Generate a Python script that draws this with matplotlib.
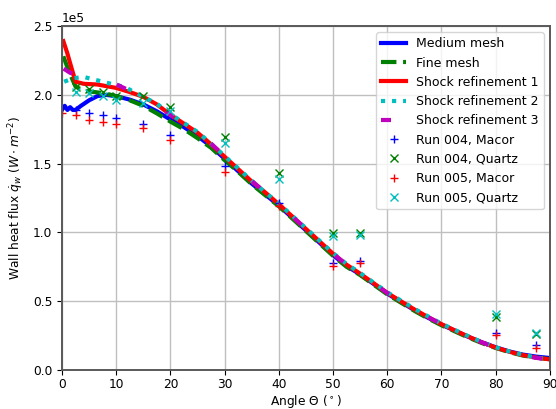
import matplotlib
matplotlib.use("Agg")
import matplotlib.pyplot as plt
import numpy as np

# simulated wall heat flux along the surface (angle in deg, flux in 1e5 W/m^2)
tail_angle = [12.5, 15, 17.5, 20, 22.5, 25, 27.5, 30, 32.5, 35, 37.5, 40, 42.5, 45,
              47.5, 50, 52.5, 55, 57.5, 60, 62.5, 65, 67.5, 70, 72.5, 75, 77.5,
              80, 82.5, 85, 87.5, 90]

medium_angle = [0, 0.5, 1.0, 1.5, 2.0, 2.5, 3.5, 5, 6.5, 8, 10] + tail_angle
medium_q = [1.89, 1.92, 1.89, 1.91, 1.89, 1.89, 1.92, 1.96, 1.99, 2.00, 1.99,
            1.965, 1.93, 1.88, 1.82, 1.765, 1.70, 1.625, 1.535, 1.445, 1.355, 1.275,
            1.195, 1.105, 1.015, 0.925, 0.835, 0.755, 0.695, 0.625, 0.555, 0.495,
            0.435, 0.38, 0.33, 0.285, 0.24, 0.20, 0.165, 0.135, 0.112, 0.097, 0.087]

fine_angle = [0.25, 1.0, 1.5, 2.5, 4, 6, 8, 10] + tail_angle
fine_q = [2.28, 2.20, 2.15, 2.06, 2.03, 2.02, 2.01, 1.99,
          1.96, 1.92, 1.865, 1.805, 1.75, 1.685, 1.615, 1.525, 1.44, 1.35, 1.27,
          1.19, 1.10, 1.01, 0.92, 0.83, 0.75, 0.69, 0.62, 0.55, 0.49,
          0.43, 0.375, 0.325, 0.28, 0.235, 0.195, 0.16, 0.13, 0.105, 0.09, 0.078]

shock1_angle = [0.25, 1.0, 1.5, 2.5, 4, 6.5, 10] + tail_angle
shock1_q = [2.39, 2.30, 2.23, 2.095, 2.08, 2.075, 2.05,
            2.02, 1.985, 1.93, 1.855, 1.79, 1.725, 1.64, 1.55, 1.46, 1.37, 1.29,
            1.205, 1.115, 1.025, 0.935, 0.845, 0.765, 0.70, 0.63, 0.56, 0.50,
            0.44, 0.385, 0.333, 0.287, 0.242, 0.20, 0.163, 0.133, 0.108, 0.09, 0.077]

shock2_angle = [0.4, 2, 4, 6, 7.6, 10, 11.4] + tail_angle[1:]
shock2_q = [2.095, 2.12, 2.13, 2.11, 2.095, 2.07, 2.06,
            1.985, 1.935, 1.86, 1.795, 1.73, 1.645, 1.555, 1.465, 1.375, 1.29,
            1.21, 1.12, 1.03, 0.94, 0.85, 0.77, 0.705, 0.635, 0.565, 0.505,
            0.445, 0.39, 0.337, 0.29, 0.245, 0.202, 0.165, 0.135, 0.11, 0.09, 0.077]

shock3_angle = [0.3, 1.5, 3, 5.8, 9.8] + tail_angle
shock3_q = [2.19, 2.16, 2.14, 2.12, 2.08,
            2.03, 1.98, 1.925, 1.855, 1.79, 1.725, 1.645, 1.555, 1.465, 1.375,
            1.29, 1.205, 1.115, 1.025, 0.935, 0.845, 0.765, 0.70, 0.63, 0.56,
            0.50, 0.44, 0.385, 0.333, 0.287, 0.242, 0.20, 0.163, 0.132, 0.106, 0.088, 0.075]

# experiments (angle in deg, flux in 1e5 W/m^2)
run004_macor_angle = [2.5, 5, 7.5, 10, 15, 20, 30, 40, 50, 55, 80, 87.5]
run004_macor_q = [1.89, 1.87, 1.85, 1.83, 1.79, 1.71, 1.48, 1.215, 0.78, 0.794, 0.271, 0.182]

run004_quartz_angle = [2.5, 5, 7.5, 10, 15, 20, 30, 40, 50, 55, 80, 87.5]
run004_quartz_q = [2.06, 2.04, 2.02, 1.99, 1.99, 1.91, 1.695, 1.434, 0.993, 0.998, 0.383, 0.265]

run005_macor_angle = [0, 2.5, 5, 7.5, 10, 15, 20, 30, 40, 50, 55, 80, 87.5]
run005_macor_q = [1.87, 1.85, 1.82, 1.80, 1.79, 1.76, 1.67, 1.44, 1.19, 0.756, 0.775, 0.254, 0.158]

run005_quartz_angle = [2.5, 5, 7.5, 10, 15, 20, 30, 40, 50, 55, 80, 87.5]
run005_quartz_q = [2.02, 2.01, 1.99, 1.96, 1.94, 1.88, 1.65, 1.386, 0.974, 0.98, 0.407, 0.271]


def main() -> None:
    plt.rcParams["font.size"] = 8.8
    plt.rcParams["axes.edgecolor"] = "0.35"
    plt.rcParams["axes.linewidth"] = 1.4

    fig = plt.figure(figsize=(5.56, 4.09), dpi=100)
    ax = fig.add_axes([0.1115, 0.0954, 0.8775, 0.841])

    s = 1e5
    ax.plot(medium_angle, np.array(medium_q) * s, "b-", lw=3, label="Medium mesh")
    ax.plot(fine_angle, np.array(fine_q) * s, "g--", lw=3, label="Fine mesh")
    ax.plot(shock1_angle, np.array(shock1_q) * s, "r-", lw=3, label="Shock refinement 1")
    ax.plot(shock2_angle, np.array(shock2_q) * s, "c:", lw=3, label="Shock refinement 2")
    ax.plot(shock3_angle, np.array(shock3_q) * s, "m", lw=3, dashes=(2.4, 11),
            label="Shock refinement 3")

    ax.plot(run004_macor_angle, np.array(run004_macor_q) * s, "b+", ms=6, mew=1,
            label="Run 004, Macor")
    ax.plot(run004_quartz_angle, np.array(run004_quartz_q) * s, "gx", ms=6, mew=1,
            label="Run 004, Quartz")
    ax.plot(run005_macor_angle, np.array(run005_macor_q) * s, "r+", ms=6, mew=1,
            label="Run 005, Macor")
    ax.plot(run005_quartz_angle, np.array(run005_quartz_q) * s, "cx", ms=6, mew=1,
            label="Run 005, Quartz")

    ax.set_xlim(0, 90)
    ax.set_ylim(0, 2.5e5)
    ax.set_xticks(np.arange(0, 91, 10))
    ax.tick_params(axis="x", pad=2.5)
    ax.grid(True, color="0.75", lw=1)
    ax.set_axisbelow(True)
    ax.ticklabel_format(axis="y", style="sci", scilimits=(0, 0))
    ax.set_xlabel(r"Angle $\Theta$ $(^\circ)$", labelpad=1)
    ax.set_ylabel(r"Wall heat flux $\dot{q}_w$ $(W \cdot m^{-2})$", labelpad=5)
    ax.legend(loc="upper right", fontsize=9)

    fig.savefig("out.png", dpi=100)


if __name__ == "__main__":
    main()
